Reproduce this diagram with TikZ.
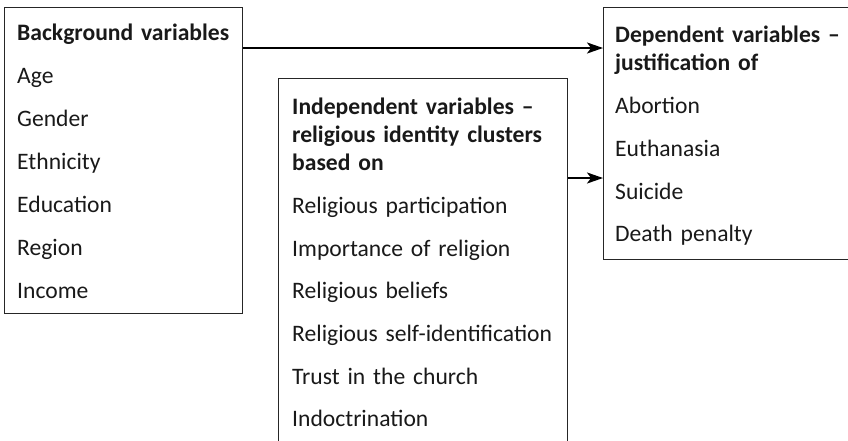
\documentclass[tikz,border=0pt]{standalone}
\usepackage{fontspec}
\setmainfont{Carlito}
\usetikzlibrary{arrows.meta}

\begin{document}
\begin{tikzpicture}[x=1pt,y=-1pt,
  varbox/.style={draw=black!85,line width=1.3pt,inner sep=0pt,anchor=north west},
  vartext/.style={inner sep=0pt,anchor=north west,align=left,text width=#1,
    text=black!90,font=\fontsize{23.6}{28}\selectfont},
  flow/.style={line width=2pt,-{Stealth[length=16pt,width=11pt,inset=4pt]}}]
  % Page
  \path[use as bounding box] (0,0) rectangle (848,440);
  % Boxes
  \node[varbox,minimum width=238pt,minimum height=306pt] (bgbox) at (4,7) {};
  \node[varbox,minimum width=289pt,minimum height=370pt] (indbox) at (278,78) {};
  \node[varbox,minimum width=250pt,minimum height=252pt] (depbox) at (603,7) {};
  % Variable lists
  \node[vartext=225pt] (bgtext) at ([xshift=13pt,yshift=-17pt]bgbox.north west)
    {\textbf{Background variables}\\[15pt]
     Age\\[15pt] Gender\\[15pt] Ethnicity\\[15pt] Education\\[15pt]
     Region\\[15pt] Income};
  \node[vartext=275pt] (indtext) at ([xshift=14pt,yshift=-20pt]indbox.north west)
    {\textbf{Independent variables --}\\
     \textbf{religious identity clusters}\\
     \textbf{based on}\\[15pt]
     Religious participation\\[14.6pt] Importance of religion\\[14.6pt]
     Religious beliefs\\[14.6pt] Religious self-identification\\[14.6pt]
     Trust in the church\\[14.6pt] Indoctrination};
  \node[vartext=235pt] (deptext) at ([xshift=12pt,yshift=-19pt]depbox.north west)
    {\textbf{Dependent variables --}\\
     \textbf{justification of}\\[15pt]
     Abortion\\[14.7pt] Euthanasia\\[14.7pt] Suicide\\[14.7pt] Death penalty};
  % Arrows
  \draw[flow] ([yshift=-41pt]bgbox.north east) -- ([yshift=-41pt]depbox.north west);
  \coordinate (indout) at ([yshift=-100pt]indbox.north east);
  \draw[flow] (indout) -- (indout -| depbox.west);
\end{tikzpicture}
\end{document}
